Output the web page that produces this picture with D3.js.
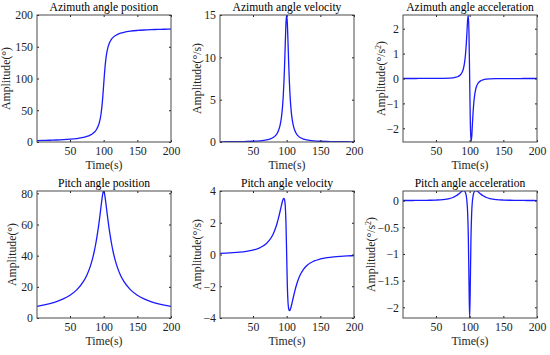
<!DOCTYPE html>
<html>
<head>
<meta charset="utf-8">
<script src="https://cdn.jsdelivr.net/npm/d3@7"></script>
<style>
    body { margin: 0; background: #ffffff; }
    svg { display: block; }
</style>
</head>
<body>
<div class="chart-container"></div>
<script>
// Sample times (s), denser near the pass at t = 100
const timeSec = [1, 10, 20, 30, 40, 50, 60, 70, 75, 80, 83, 86, 88, 90, 91, 92, 93, 94, 95, 96, 97, 98, 99,
    100, 101, 102, 103, 104, 105, 106, 107, 108, 109, 110, 112, 114, 117, 120, 125, 130, 140, 150, 160, 170, 180, 190, 200];

// Values
const azPosition = [2.21, 2.43, 2.73, 3.12, 3.64, 4.37, 5.45, 7.26, 8.69, 10.81, 12.67, 15.26, 17.66, 20.91, 23.0, 25.52, 28.63, 32.48, 37.38, 43.68, 51.85, 62.36, 75.33,
    90, 104.67, 117.64, 128.15, 136.32, 142.62, 147.52, 151.37, 154.48, 157.0, 159.09, 162.34, 164.74, 167.33, 169.19, 171.31, 172.74, 174.55, 175.63, 176.36, 176.88, 177.27, 177.57, 177.81];

const azVelocity = [0.022, 0.027, 0.034, 0.045, 0.061, 0.087, 0.136, 0.24, 0.34, 0.53, 0.72, 1.04, 1.38, 1.91, 2.29, 2.78, 3.44, 4.33, 5.53, 7.15, 9.28, 11.77, 14.04,
    15, 14.04, 11.77, 9.28, 7.15, 5.53, 4.33, 3.44, 2.78, 2.29, 1.91, 1.38, 1.04, 0.72, 0.53, 0.34, 0.24, 0.136, 0.087, 0.061, 0.045, 0.034, 0.027, 0.022];

const azAcceleration = [0.0005, 0.0006, 0.0009, 0.0013, 0.0020, 0.0035, 0.0067, 0.016, 0.027, 0.051, 0.081, 0.138, 0.209, 0.333, 0.431, 0.567, 0.758, 1.026, 1.396, 1.871, 2.359, 2.533, 1.801,
    0, -1.801, -2.533, -2.359, -1.871, -1.396, -1.026, -0.758, -0.567, -0.431, -0.333, -0.209, -0.138, -0.081, -0.051, -0.027, -0.016, -0.0067, -0.0035, -0.0020, -0.0013, -0.0009, -0.0006, -0.0004];

const pitchPosition = [7.50, 8.24, 9.26, 10.55, 12.25, 14.61, 18.03, 23.45, 27.47, 32.98, 37.31, 42.68, 47.01, 52.00, 54.77, 57.73, 60.87, 64.18, 67.63, 71.16, 74.66, 77.91, 80.46,
    81.50, 80.46, 77.91, 74.66, 71.16, 67.63, 64.18, 60.87, 57.73, 54.77, 52.00, 47.01, 42.68, 37.31, 32.98, 27.47, 23.45, 18.03, 14.61, 12.25, 10.55, 9.26, 8.24, 7.43];

const pitchVelocity = [0.075, 0.090, 0.114, 0.147, 0.198, 0.279, 0.421, 0.694, 0.932, 1.295, 1.604, 2.000, 2.320, 2.677, 2.865, 3.051, 3.229, 3.385, 3.500, 3.537, 3.426, 3.008, 1.950,
    0, -1.950, -3.008, -3.426, -3.537, -3.500, -3.385, -3.229, -3.051, -2.865, -2.677, -2.320, -2.000, -1.604, -1.295, -0.932, -0.694, -0.421, -0.279, -0.198, -0.147, -0.114, -0.090, -0.073];

const pitchAcceleration = [0.0015, 0.0020, 0.0028, 0.0041, 0.0063, 0.0104, 0.0189, 0.0387, 0.0581, 0.0897, 0.1166, 0.1487, 0.1702, 0.1857, 0.1881, 0.1839, 0.1697, 0.1397, 0.0837, -0.0207, -0.2266, -0.6651, -1.5215,
    -2.2045, -1.5215, -0.6651, -0.2266, -0.0207, 0.0837, 0.1397, 0.1697, 0.1839, 0.1881, 0.1857, 0.1702, 0.1487, 0.1166, 0.0897, 0.0581, 0.0387, 0.0189, 0.0104, 0.0063, 0.0041, 0.0028, 0.0020, 0.0014];

// Titles, axis ranges and ticks for each panel
const panelTitles = ["Azimuth angle position", "Azimuth angle velocity", "Azimuth angle acceleration",
    "Pitch angle position", "Pitch angle velocity", "Pitch angle acceleration"];
const panelUnits = ["°", "°/s", "°/s2", "°", "°/s", "°/s2"];
const yDomains = [[0, 200], [0, 15], [-2.55, 2.55], [0, 81.5], [-4, 4], [-2.2, 0.18]];
const yTicks = [[0, 50, 100, 150, 200], [0, 5, 10, 15], [-2, -1, 0, 1, 2],
    [0, 20, 40, 60, 80], [-4, -2, 0, 2, 4], [-2, -1.5, -1, -0.5, 0]];
const xDomain = [1, 200];
const xTicks = [50, 100, 150, 200];
const xLabel = "Time(s)";

const seriesList = [azPosition, azVelocity, azAcceleration, pitchPosition, pitchVelocity, pitchAcceleration];

// Layout of the 2 x 3 grid
const w = 550, h = 355;
const colLeft = [37, 220, 403];
const rowTop = [15, 191];
const boxW = 134, boxH = 127;
const yLabelGap = [27, 19, 18, 21, 19, 28];
const fontFamily = "'Liberation Serif', 'Times New Roman', serif";
const fontSize = "11.8px";
const axisColor = "#1e1e1e";

const svg = d3.select(".chart-container").append("svg")
    .attr("width", w)
    .attr("height", h)
    .style("font-family", fontFamily);

const fmt = d3.format("~g");

seriesList.forEach((values, i) => {
    const left = colLeft[i % 3];
    const top = rowTop[Math.floor(i / 3)];
    const data = timeSec.map((t, j) => ({ t: t, v: values[j] }));

    const xScale = d3.scaleLinear().domain(xDomain).range([left, left + boxW]);
    const yScale = d3.scaleLinear().domain(yDomains[i]).range([top + boxH, top]);

    const g = svg.append("g").attr("class", "panel");

    // Clip the curve to the box
    g.append("clipPath")
        .attr("id", "clip" + i)
        .append("rect")
        .attr("x", left)
        .attr("y", top)
        .attr("width", boxW)
        .attr("height", boxH);

    const line = d3.line()
        .x((d) => xScale(d.t))
        .y((d) => yScale(d.v))
        .curve(d3.curveMonotoneX);

    g.append("path")
        .datum(data)
        .attr("clip-path", `url(#clip${i})`)
        .attr("fill", "none")
        .attr("stroke", "#1a1aff")
        .attr("stroke-width", 1.3)
        .attr("d", line);

    // Axes with inward ticks, mirrored on top and right
    const styleAxis = (sel) => {
        sel.select(".domain").remove();
        sel.selectAll("line").attr("stroke", axisColor);
        sel.selectAll("text")
            .attr("fill", axisColor)
            .style("font-family", fontFamily)
            .style("font-size", fontSize);
    };

    g.append("g")
        .attr("transform", `translate(0, ${top + boxH})`)
        .call(d3.axisBottom(xScale).tickValues(xTicks).tickSizeInner(-2).tickSizeOuter(0).tickPadding(5).tickFormat(fmt))
        .call(styleAxis);

    g.append("g")
        .attr("transform", `translate(0, ${top})`)
        .call(d3.axisTop(xScale).tickValues(xTicks).tickSizeInner(-2).tickSizeOuter(0).tickFormat(""))
        .call(styleAxis);

    g.append("g")
        .attr("transform", `translate(${left}, 0)`)
        .call(d3.axisLeft(yScale).tickValues(yTicks[i]).tickSizeInner(-2).tickSizeOuter(0).tickPadding(4).tickFormat(fmt))
        .call(styleAxis);

    g.append("g")
        .attr("transform", `translate(${left + boxW}, 0)`)
        .call(d3.axisRight(yScale).tickValues(yTicks[i]).tickSizeInner(-2).tickSizeOuter(0).tickFormat(""))
        .call(styleAxis);

    // Box
    g.append("rect")
        .attr("x", left)
        .attr("y", top)
        .attr("width", boxW)
        .attr("height", boxH)
        .attr("fill", "none")
        .attr("stroke", "#4a4a4a")
        .attr("stroke-width", 1);

    // Title
    g.append("text")
        .attr("x", left + boxW / 2)
        .attr("y", top - 4)
        .attr("text-anchor", "middle")
        .attr("fill", "#000")
        .style("font-size", "11.6px")
        .text(panelTitles[i]);

    // X label
    g.append("text")
        .attr("x", left + boxW / 2)
        .attr("y", top + boxH + 27)
        .attr("text-anchor", "middle")
        .attr("fill", axisColor)
        .style("font-size", fontSize)
        .text(xLabel);

    // Y label, with a superscript for the acceleration units
    const lx = left - yLabelGap[i];
    const ly = top + boxH / 2;
    const yl = g.append("text")
        .attr("transform", `translate(${lx}, ${ly}) rotate(-90)`)
        .attr("text-anchor", "middle")
        .attr("fill", axisColor)
        .style("font-size", fontSize);
    const unit = panelUnits[i];
    if (unit.endsWith("2")) {
        yl.append("tspan").text("Amplitude(" + unit.slice(0, -1));
        yl.append("tspan").attr("dy", -4).style("font-size", "8px").text("2");
        yl.append("tspan").attr("dy", 4).text(")");
    } else {
        yl.text("Amplitude(" + unit + ")");
    }
});
</script>
</body>
</html>
